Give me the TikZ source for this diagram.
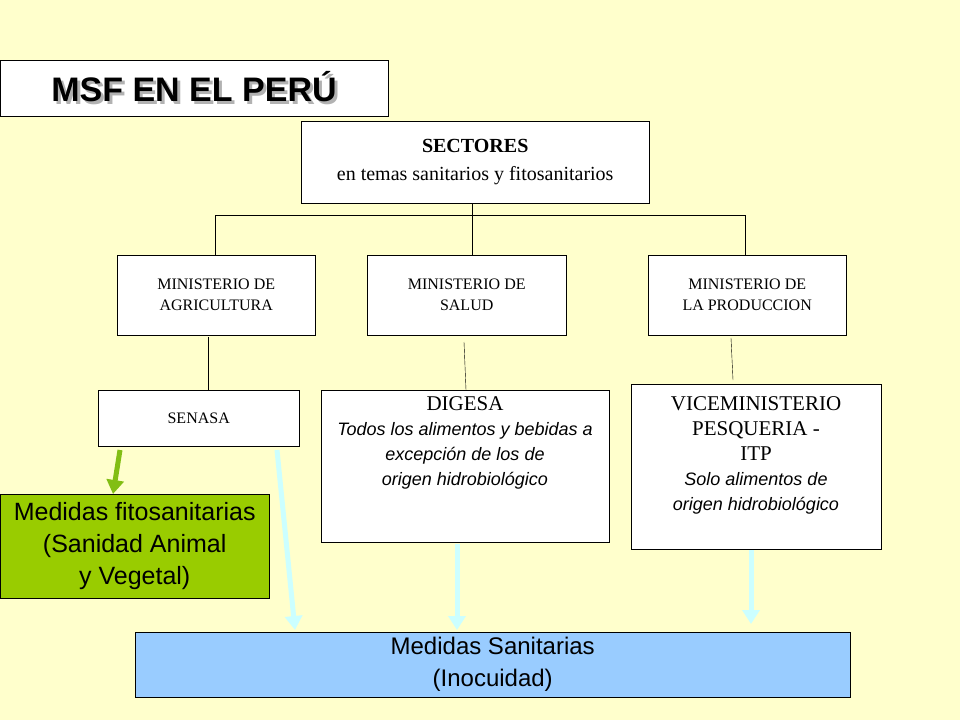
\documentclass[tikz,border=0pt]{standalone}
\usepackage{fontspec}
\setmainfont{Liberation Serif}
\setsansfont{Liberation Sans}
\usepackage{tikz}
\definecolor{paper}{RGB}{255,255,204}
\definecolor{fitogreen}{RGB}{153,204,0}
\definecolor{sanblue}{RGB}{153,204,255}
\definecolor{arrowcyan}{RGB}{204,255,255}
\definecolor{arrowgreen}{RGB}{130,190,20}
\tikzset{
  box/.style      = {draw, fill=white, align=center, inner sep=0pt},
  minbox/.style   = {box, font=\fontsize{16}{21}\selectfont},
  wide/.style     = {line width=5pt, -{Triangle[length=14pt,width=17pt]}},
}
\usetikzlibrary{arrows.meta}
\begin{document}
\begin{tikzpicture}[x=1pt,y=-1pt]
  \fill[paper] (0,0) rectangle (960,720);
  % title
  \node[box, minimum width=388, minimum height=56, anchor=north west] (title) at (0,60) {};
  \node[font=\sffamily\bfseries\fontsize{34}{38}\selectfont, text=gray!60] at (197,90) {MSF EN EL PERÚ};
  \node[font=\sffamily\bfseries\fontsize{34}{38}\selectfont] at (194,87) {MSF EN EL PERÚ};
  % sectors
  \node[box, minimum width=348, minimum height=82, anchor=north west,
        font=\fontsize{20}{28}\selectfont] (sect) at (301,121)
    {\textbf{SECTORES}\\en temas sanitarios y fitosanitarios};
  % ministries
  \node[minbox, minimum width=198, minimum height=80, anchor=north west] (agri) at (117,255) {MINISTERIO DE\\AGRICULTURA};
  \node[minbox, minimum width=199, minimum height=80, anchor=north west] (salud) at (367,255) {MINISTERIO DE\\SALUD};
  \node[minbox, minimum width=198, minimum height=80, anchor=north west] (prod) at (648,255) {MINISTERIO DE\\LA PRODUCCION};
  \coordinate (barl) at (215,215);
  \coordinate (barm) at (472,215);
  \coordinate (barr) at (745,215);
  \draw (barl) -- (barr);
  \draw (barm |- sect.south) -- (barm |- salud.north);
  \draw (barl) -- (barl |- agri.north);
  \draw (barr) -- (barr |- prod.north);
  % agencies
  \node[minbox, minimum width=201, minimum height=56, anchor=north west] (senasa) at (98,390) {SENASA};
  \node[box, minimum width=288, minimum height=152, anchor=north west] (digesa) at (321,390) {};
  \node[align=center, anchor=north, font=\fontsize{21}{30}\selectfont] at (465,393)
    {DIGESA\\[-5pt]{\sffamily\itshape\fontsize{18}{30}\selectfont Todos los alimentos y bebidas a}\\[-5pt]
     {\sffamily\itshape\fontsize{18}{30}\selectfont excepción de los de}\\[-5pt]
     {\sffamily\itshape\fontsize{18}{30}\selectfont origen hidrobiológico}};
  \node[box, minimum width=250, minimum height=165, anchor=north west] (vice) at (631,384) {};
  \node[align=center, anchor=north, font=\fontsize{21}{30}\selectfont] at (756,393)
    {VICEMINISTERIO\\[-5pt]PESQUERIA -\\[-5pt]ITP\\[-5pt]
     {\sffamily\itshape\fontsize{18}{30}\selectfont Solo alimentos de}\\[-5pt]
     {\sffamily\itshape\fontsize{18}{30}\selectfont origen hidrobiológico}};
  \draw (208,337) -- (senasa.north -| 208,0);
  \draw (464,342) -- (466,390);
  \draw (731,338) -- (733,380);
  % measures
  \node[draw, fill=fitogreen, minimum width=269, minimum height=104, anchor=north west, inner sep=0pt,
        align=center, font=\sffamily\fontsize{25}{32}\selectfont] (fito) at (0,494)
    {Medidas fitosanitarias\\(Sanidad Animal\\y Vegetal)};
  \node[draw, fill=sanblue, minimum width=715, minimum height=65, anchor=north west, inner sep=0pt,
        align=center, font=\sffamily\fontsize{24}{32}\selectfont] (sanit) at (135,632)
    {Medidas Sanitarias\\(Inocuidad)};
  % arrows
  \draw[wide, arrowgreen] (120,450) -- (113,494);
  \draw[wide, arrowcyan] (277,450) -- (295,630);
  \draw[wide, arrowcyan] (457,544) -- (457,630);
  \draw[wide, arrowcyan] (751,550) -- (751,624);
\end{tikzpicture}
\end{document}
